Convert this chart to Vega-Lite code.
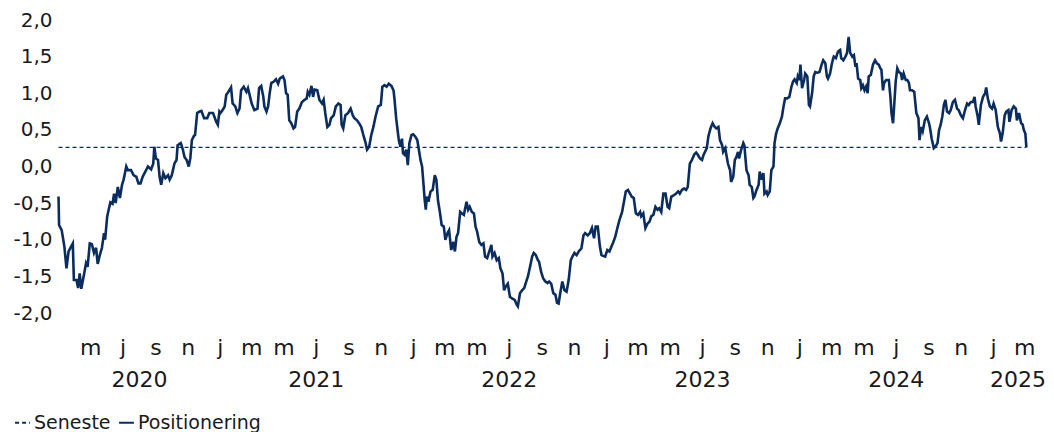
{
  "$schema": "https://vega.github.io/schema/vega-lite/v6.json",
  "width": 970,
  "height": 293,
  "autosize": "none",
  "padding": {"left": 58, "top": 20, "right": 26, "bottom": 119},
  "background": "white",
  "config": {
    "view": {"stroke": null},
    "font": "DejaVu Sans",
    "axis": {"grid": false, "domain": false, "ticks": false, "tickSize": 0, "labelColor": "#1a1a1a", "labelFont": "DejaVu Sans", "title": null, "labelOverlap": false}
  },
  "datasets": {
    "pos": [
      {"d":"2020-03-02","v":-0.41},{"d":"2020-03-03","v":-0.80},{"d":"2020-03-08","v":-0.87},{"d":"2020-03-13","v":-1.09},{"d":"2020-03-17","v":-1.39},{"d":"2020-03-21","v":-1.16},{"d":"2020-03-29","v":-1.05},{"d":"2020-03-31","v":-1.55},{"d":"2020-04-05","v":-1.55},{"d":"2020-04-08","v":-1.66},{"d":"2020-04-11","v":-1.46},{"d":"2020-04-14","v":-1.67},{"d":"2020-04-19","v":-1.48},{"d":"2020-04-23","v":-1.32},{"d":"2020-04-26","v":-1.37},{"d":"2020-04-30","v":-1.05},{"d":"2020-05-04","v":-1.06},{"d":"2020-05-08","v":-1.18},{"d":"2020-05-12","v":-1.11},{"d":"2020-05-15","v":-1.33},{"d":"2020-05-19","v":-1.21},{"d":"2020-05-23","v":-1.11},{"d":"2020-05-27","v":-0.91},{"d":"2020-05-29","v":-1.00},{"d":"2020-06-02","v":-0.68},{"d":"2020-06-06","v":-0.55},{"d":"2020-06-08","v":-0.49},{"d":"2020-06-12","v":-0.51},{"d":"2020-06-15","v":-0.37},{"d":"2020-06-18","v":-0.50},{"d":"2020-06-22","v":-0.28},{"d":"2020-06-26","v":-0.43},{"d":"2020-06-30","v":-0.25},{"d":"2020-07-03","v":-0.18},{"d":"2020-07-08","v":0.00},{"d":"2020-07-11","v":-0.05},{"d":"2020-07-17","v":-0.05},{"d":"2020-07-22","v":-0.12},{"d":"2020-07-27","v":-0.14},{"d":"2020-07-31","v":-0.23},{"d":"2020-08-04","v":-0.23},{"d":"2020-08-08","v":-0.14},{"d":"2020-08-13","v":-0.07},{"d":"2020-08-18","v":0.00},{"d":"2020-08-24","v":-0.04},{"d":"2020-08-28","v":0.04},{"d":"2020-08-30","v":0.27},{"d":"2020-09-02","v":0.11},{"d":"2020-09-06","v":0.09},{"d":"2020-09-09","v":-0.14},{"d":"2020-09-12","v":-0.25},{"d":"2020-09-16","v":-0.09},{"d":"2020-09-20","v":-0.16},{"d":"2020-09-25","v":-0.12},{"d":"2020-09-28","v":-0.18},{"d":"2020-10-02","v":-0.12},{"d":"2020-10-07","v":0.04},{"d":"2020-10-11","v":0.09},{"d":"2020-10-13","v":0.29},{"d":"2020-10-19","v":0.32},{"d":"2020-10-23","v":0.23},{"d":"2020-10-26","v":0.13},{"d":"2020-10-30","v":0.09},{"d":"2020-11-03","v":0.00},{"d":"2020-11-06","v":0.11},{"d":"2020-11-09","v":0.36},{"d":"2020-11-13","v":0.42},{"d":"2020-11-15","v":0.43},{"d":"2020-11-19","v":0.73},{"d":"2020-11-23","v":0.75},{"d":"2020-11-27","v":0.76},{"d":"2020-12-02","v":0.66},{"d":"2020-12-08","v":0.66},{"d":"2020-12-12","v":0.73},{"d":"2020-12-19","v":0.73},{"d":"2020-12-25","v":0.61},{"d":"2020-12-28","v":0.57},{"d":"2020-12-31","v":0.75},
      {"d":"2021-01-02","v":0.73},{"d":"2021-01-06","v":0.77},{"d":"2021-01-10","v":0.82},{"d":"2021-01-13","v":0.98},{"d":"2021-01-17","v":1.02},{"d":"2021-01-22","v":1.08},{"d":"2021-01-25","v":0.86},{"d":"2021-01-30","v":0.82},{"d":"2021-02-03","v":0.73},{"d":"2021-02-07","v":0.79},{"d":"2021-02-10","v":1.04},{"d":"2021-02-15","v":1.09},{"d":"2021-02-20","v":1.02},{"d":"2021-02-23","v":1.07},{"d":"2021-02-27","v":0.95},{"d":"2021-03-02","v":0.86},{"d":"2021-03-07","v":0.77},{"d":"2021-03-13","v":0.79},{"d":"2021-03-16","v":1.07},{"d":"2021-03-20","v":1.10},{"d":"2021-03-24","v":0.95},{"d":"2021-03-26","v":0.82},{"d":"2021-03-30","v":0.75},{"d":"2021-04-02","v":0.82},{"d":"2021-04-05","v":1.00},{"d":"2021-04-08","v":1.14},{"d":"2021-04-13","v":1.16},{"d":"2021-04-17","v":1.19},{"d":"2021-04-21","v":1.13},{"d":"2021-04-24","v":1.20},{"d":"2021-04-30","v":1.23},{"d":"2021-05-03","v":1.18},{"d":"2021-05-06","v":1.00},{"d":"2021-05-09","v":0.98},{"d":"2021-05-12","v":0.63},{"d":"2021-05-16","v":0.59},{"d":"2021-05-20","v":0.52},{"d":"2021-05-23","v":0.54},{"d":"2021-05-27","v":0.75},{"d":"2021-05-31","v":0.79},{"d":"2021-06-05","v":0.88},{"d":"2021-06-10","v":0.91},{"d":"2021-06-14","v":0.93},{"d":"2021-06-16","v":1.02},{"d":"2021-06-19","v":0.98},{"d":"2021-06-23","v":1.10},{"d":"2021-06-26","v":0.95},{"d":"2021-06-29","v":1.05},{"d":"2021-07-04","v":1.04},{"d":"2021-07-08","v":0.91},{"d":"2021-07-13","v":0.86},{"d":"2021-07-16","v":0.91},{"d":"2021-07-19","v":0.73},{"d":"2021-07-23","v":0.54},{"d":"2021-07-27","v":0.57},{"d":"2021-07-30","v":0.66},{"d":"2021-08-04","v":0.70},{"d":"2021-08-08","v":0.82},{"d":"2021-08-13","v":0.86},{"d":"2021-08-17","v":0.84},{"d":"2021-08-19","v":0.57},{"d":"2021-08-22","v":0.52},{"d":"2021-08-26","v":0.70},{"d":"2021-08-31","v":0.73},{"d":"2021-09-05","v":0.79},{"d":"2021-09-09","v":0.70},{"d":"2021-09-12","v":0.66},{"d":"2021-09-17","v":0.63},{"d":"2021-09-21","v":0.59},{"d":"2021-09-25","v":0.54},{"d":"2021-09-29","v":0.43},{"d":"2021-10-03","v":0.33},{"d":"2021-10-06","v":0.23},{"d":"2021-10-10","v":0.27},{"d":"2021-10-14","v":0.43},{"d":"2021-10-18","v":0.54},{"d":"2021-10-22","v":0.68},{"d":"2021-10-27","v":0.82},{"d":"2021-11-01","v":0.84},{"d":"2021-11-04","v":1.09},{"d":"2021-11-08","v":1.11},{"d":"2021-11-12","v":1.09},{"d":"2021-11-16","v":1.13},{"d":"2021-11-21","v":1.10},{"d":"2021-11-25","v":1.04},{"d":"2021-11-27","v":0.91},{"d":"2021-11-30","v":0.66},{"d":"2021-12-02","v":0.54},{"d":"2021-12-05","v":0.36},{"d":"2021-12-08","v":0.27},{"d":"2021-12-11","v":0.38},{"d":"2021-12-13","v":0.18},{"d":"2021-12-16","v":0.16},{"d":"2021-12-19","v":0.23},{"d":"2021-12-22","v":0.02},{"d":"2021-12-25","v":0.32},{"d":"2021-12-29","v":0.43},
      {"d":"2022-01-01","v":0.44},{"d":"2022-01-05","v":0.41},{"d":"2022-01-09","v":0.36},{"d":"2022-01-13","v":0.18},{"d":"2022-01-15","v":0.09},{"d":"2022-01-18","v":0.00},{"d":"2022-01-20","v":-0.18},{"d":"2022-01-23","v":-0.46},{"d":"2022-01-25","v":-0.59},{"d":"2022-01-27","v":-0.41},{"d":"2022-01-30","v":-0.48},{"d":"2022-02-03","v":-0.34},{"d":"2022-02-07","v":-0.32},{"d":"2022-02-11","v":-0.12},{"d":"2022-02-14","v":-0.18},{"d":"2022-02-17","v":-0.46},{"d":"2022-02-21","v":-0.64},{"d":"2022-02-24","v":-0.80},{"d":"2022-02-28","v":-0.82},{"d":"2022-03-03","v":-1.00},{"d":"2022-03-07","v":-0.91},{"d":"2022-03-10","v":-0.87},{"d":"2022-03-14","v":-1.14},{"d":"2022-03-18","v":-1.03},{"d":"2022-03-21","v":-1.16},{"d":"2022-03-24","v":-0.96},{"d":"2022-03-27","v":-0.91},{"d":"2022-03-31","v":-0.62},{"d":"2022-04-03","v":-0.64},{"d":"2022-04-07","v":-0.66},{"d":"2022-04-12","v":-0.48},{"d":"2022-04-15","v":-0.59},{"d":"2022-04-18","v":-0.55},{"d":"2022-04-22","v":-0.62},{"d":"2022-04-26","v":-0.64},{"d":"2022-04-29","v":-0.82},{"d":"2022-05-02","v":-0.89},{"d":"2022-05-06","v":-1.03},{"d":"2022-05-10","v":-1.07},{"d":"2022-05-14","v":-1.05},{"d":"2022-05-17","v":-1.23},{"d":"2022-05-21","v":-1.25},{"d":"2022-05-25","v":-1.16},{"d":"2022-05-29","v":-1.07},{"d":"2022-05-31","v":-1.23},{"d":"2022-06-04","v":-1.18},{"d":"2022-06-08","v":-1.28},{"d":"2022-06-12","v":-1.25},{"d":"2022-06-15","v":-1.39},{"d":"2022-06-19","v":-1.46},{"d":"2022-06-22","v":-1.69},{"d":"2022-06-25","v":-1.64},{"d":"2022-06-29","v":-1.60},{"d":"2022-07-03","v":-1.78},{"d":"2022-07-07","v":-1.80},{"d":"2022-07-12","v":-1.82},{"d":"2022-07-16","v":-1.89},{"d":"2022-07-18","v":-1.91},{"d":"2022-07-22","v":-1.73},{"d":"2022-07-26","v":-1.69},{"d":"2022-07-30","v":-1.66},{"d":"2022-08-02","v":-1.59},{"d":"2022-08-06","v":-1.50},{"d":"2022-08-10","v":-1.37},{"d":"2022-08-14","v":-1.23},{"d":"2022-08-17","v":-1.18},{"d":"2022-08-21","v":-1.21},{"d":"2022-08-25","v":-1.28},{"d":"2022-08-27","v":-1.30},{"d":"2022-08-31","v":-1.44},{"d":"2022-09-04","v":-1.53},{"d":"2022-09-08","v":-1.57},{"d":"2022-09-12","v":-1.59},{"d":"2022-09-15","v":-1.57},{"d":"2022-09-19","v":-1.60},{"d":"2022-09-23","v":-1.73},{"d":"2022-09-27","v":-1.75},{"d":"2022-09-30","v":-1.86},{"d":"2022-10-03","v":-1.87},{"d":"2022-10-07","v":-1.69},{"d":"2022-10-10","v":-1.57},{"d":"2022-10-14","v":-1.69},{"d":"2022-10-18","v":-1.71},{"d":"2022-10-22","v":-1.55},{"d":"2022-10-26","v":-1.28},{"d":"2022-10-29","v":-1.23},{"d":"2022-11-02","v":-1.18},{"d":"2022-11-06","v":-1.21},{"d":"2022-11-10","v":-1.16},{"d":"2022-11-15","v":-1.12},{"d":"2022-11-19","v":-0.94},{"d":"2022-11-22","v":-0.91},{"d":"2022-11-27","v":-0.94},{"d":"2022-12-01","v":-0.91},{"d":"2022-12-05","v":-0.84},{"d":"2022-12-09","v":-0.98},{"d":"2022-12-12","v":-0.82},{"d":"2022-12-16","v":-0.82},{"d":"2022-12-20","v":-1.09},{"d":"2022-12-23","v":-1.21},{"d":"2022-12-26","v":-1.22},{"d":"2022-12-30","v":-1.23},
      {"d":"2023-01-03","v":-1.14},{"d":"2023-01-07","v":-1.16},{"d":"2023-01-11","v":-1.09},{"d":"2023-01-14","v":-1.04},{"d":"2023-01-18","v":-0.96},{"d":"2023-01-22","v":-0.84},{"d":"2023-01-26","v":-0.73},{"d":"2023-01-31","v":-0.62},{"d":"2023-02-03","v":-0.50},{"d":"2023-02-07","v":-0.34},{"d":"2023-02-11","v":-0.32},{"d":"2023-02-15","v":-0.37},{"d":"2023-02-18","v":-0.41},{"d":"2023-02-22","v":-0.43},{"d":"2023-02-26","v":-0.64},{"d":"2023-03-02","v":-0.66},{"d":"2023-03-06","v":-0.62},{"d":"2023-03-08","v":-0.68},{"d":"2023-03-12","v":-0.64},{"d":"2023-03-16","v":-0.84},{"d":"2023-03-20","v":-0.78},{"d":"2023-03-24","v":-0.75},{"d":"2023-03-27","v":-0.68},{"d":"2023-03-31","v":-0.66},{"d":"2023-04-04","v":-0.55},{"d":"2023-04-08","v":-0.59},{"d":"2023-04-11","v":-0.57},{"d":"2023-04-15","v":-0.62},{"d":"2023-04-19","v":-0.37},{"d":"2023-04-23","v":-0.37},{"d":"2023-04-27","v":-0.55},{"d":"2023-04-30","v":-0.57},{"d":"2023-05-04","v":-0.41},{"d":"2023-05-09","v":-0.39},{"d":"2023-05-13","v":-0.37},{"d":"2023-05-17","v":-0.34},{"d":"2023-05-20","v":-0.37},{"d":"2023-05-24","v":-0.32},{"d":"2023-05-28","v":-0.30},{"d":"2023-06-01","v":-0.32},{"d":"2023-06-04","v":-0.28},{"d":"2023-06-08","v":0.04},{"d":"2023-06-12","v":0.09},{"d":"2023-06-16","v":0.16},{"d":"2023-06-20","v":0.19},{"d":"2023-06-23","v":0.16},{"d":"2023-06-27","v":0.11},{"d":"2023-07-01","v":0.09},{"d":"2023-07-04","v":0.16},{"d":"2023-07-10","v":0.25},{"d":"2023-07-13","v":0.41},{"d":"2023-07-17","v":0.52},{"d":"2023-07-21","v":0.59},{"d":"2023-07-25","v":0.54},{"d":"2023-07-28","v":0.52},{"d":"2023-08-01","v":0.54},{"d":"2023-08-04","v":0.36},{"d":"2023-08-08","v":0.29},{"d":"2023-08-10","v":0.20},{"d":"2023-08-14","v":0.25},{"d":"2023-08-16","v":0.16},{"d":"2023-08-19","v":0.04},{"d":"2023-08-23","v":-0.05},{"d":"2023-08-25","v":-0.21},{"d":"2023-08-29","v":-0.14},{"d":"2023-09-01","v":0.09},{"d":"2023-09-04","v":0.13},{"d":"2023-09-07","v":0.20},{"d":"2023-09-09","v":0.11},{"d":"2023-09-13","v":0.23},{"d":"2023-09-17","v":0.32},{"d":"2023-09-19","v":0.29},{"d":"2023-09-23","v":-0.05},{"d":"2023-09-27","v":-0.12},{"d":"2023-09-29","v":-0.25},{"d":"2023-10-03","v":-0.28},{"d":"2023-10-06","v":-0.43},{"d":"2023-10-08","v":-0.41},{"d":"2023-10-12","v":-0.32},{"d":"2023-10-16","v":-0.25},{"d":"2023-10-18","v":-0.07},{"d":"2023-10-22","v":-0.18},{"d":"2023-10-25","v":-0.09},{"d":"2023-10-27","v":-0.37},{"d":"2023-10-31","v":-0.34},{"d":"2023-11-02","v":-0.39},{"d":"2023-11-06","v":-0.34},{"d":"2023-11-09","v":-0.05},{"d":"2023-11-13","v":0.00},{"d":"2023-11-15","v":0.32},{"d":"2023-11-18","v":0.45},{"d":"2023-11-21","v":0.52},{"d":"2023-11-25","v":0.59},{"d":"2023-11-29","v":0.68},{"d":"2023-12-02","v":0.82},{"d":"2023-12-05","v":0.93},{"d":"2023-12-09","v":0.93},{"d":"2023-12-13","v":0.95},{"d":"2023-12-17","v":1.09},{"d":"2023-12-20","v":1.16},{"d":"2023-12-23","v":1.19},{"d":"2023-12-27","v":1.14},{"d":"2023-12-29","v":1.23},
      {"d":"2024-01-01","v":1.18},{"d":"2024-01-03","v":1.39},{"d":"2024-01-06","v":1.07},{"d":"2024-01-10","v":1.18},{"d":"2024-01-12","v":1.27},{"d":"2024-01-16","v":1.23},{"d":"2024-01-19","v":0.84},{"d":"2024-01-21","v":0.82},{"d":"2024-01-25","v":1.00},{"d":"2024-01-28","v":1.23},{"d":"2024-01-31","v":1.29},{"d":"2024-02-04","v":1.28},{"d":"2024-02-08","v":1.29},{"d":"2024-02-12","v":1.39},{"d":"2024-02-15","v":1.45},{"d":"2024-02-19","v":1.41},{"d":"2024-02-22","v":1.23},{"d":"2024-02-24","v":1.20},{"d":"2024-02-28","v":1.27},{"d":"2024-03-02","v":1.39},{"d":"2024-03-04","v":1.45},{"d":"2024-03-06","v":1.50},{"d":"2024-03-10","v":1.48},{"d":"2024-03-14","v":1.57},{"d":"2024-03-18","v":1.59},{"d":"2024-03-20","v":1.48},{"d":"2024-03-24","v":1.45},{"d":"2024-03-28","v":1.50},{"d":"2024-03-31","v":1.55},{"d":"2024-04-03","v":1.77},{"d":"2024-04-06","v":1.55},{"d":"2024-04-10","v":1.50},{"d":"2024-04-13","v":1.52},{"d":"2024-04-16","v":1.36},{"d":"2024-04-18","v":1.41},{"d":"2024-04-21","v":1.20},{"d":"2024-04-25","v":1.18},{"d":"2024-04-27","v":1.07},{"d":"2024-04-30","v":1.11},{"d":"2024-05-03","v":1.04},{"d":"2024-05-06","v":1.09},{"d":"2024-05-09","v":1.00},{"d":"2024-05-11","v":1.23},{"d":"2024-05-15","v":1.25},{"d":"2024-05-19","v":1.39},{"d":"2024-05-23","v":1.45},{"d":"2024-05-26","v":1.41},{"d":"2024-05-30","v":1.39},{"d":"2024-06-02","v":1.34},{"d":"2024-06-04","v":1.32},{"d":"2024-06-07","v":1.04},{"d":"2024-06-09","v":1.14},{"d":"2024-06-13","v":1.18},{"d":"2024-06-18","v":1.18},{"d":"2024-06-21","v":0.95},{"d":"2024-06-23","v":0.73},{"d":"2024-06-26","v":0.59},{"d":"2024-06-28","v":0.82},{"d":"2024-07-01","v":1.16},{"d":"2024-07-04","v":1.34},{"d":"2024-07-07","v":1.29},{"d":"2024-07-11","v":1.27},{"d":"2024-07-13","v":1.18},{"d":"2024-07-16","v":1.27},{"d":"2024-07-20","v":1.18},{"d":"2024-07-23","v":1.18},{"d":"2024-07-26","v":1.14},{"d":"2024-07-28","v":1.04},{"d":"2024-08-01","v":1.04},{"d":"2024-08-05","v":1.02},{"d":"2024-08-09","v":0.73},{"d":"2024-08-13","v":0.66},{"d":"2024-08-15","v":0.36},{"d":"2024-08-18","v":0.54},{"d":"2024-08-21","v":0.48},{"d":"2024-08-25","v":0.63},{"d":"2024-08-29","v":0.68},{"d":"2024-09-02","v":0.59},{"d":"2024-09-04","v":0.52},{"d":"2024-09-07","v":0.38},{"d":"2024-09-11","v":0.25},{"d":"2024-09-14","v":0.27},{"d":"2024-09-18","v":0.32},{"d":"2024-09-21","v":0.50},{"d":"2024-09-24","v":0.57},{"d":"2024-09-27","v":0.68},{"d":"2024-09-30","v":0.84},{"d":"2024-10-03","v":0.91},{"d":"2024-10-06","v":0.75},{"d":"2024-10-10","v":0.73},{"d":"2024-10-13","v":0.77},{"d":"2024-10-17","v":0.88},{"d":"2024-10-21","v":0.91},{"d":"2024-10-25","v":0.79},{"d":"2024-10-28","v":0.77},{"d":"2024-11-01","v":0.70},{"d":"2024-11-05","v":0.66},{"d":"2024-11-09","v":0.77},{"d":"2024-11-13","v":0.86},{"d":"2024-11-16","v":0.84},{"d":"2024-11-20","v":0.88},{"d":"2024-11-24","v":0.88},{"d":"2024-11-27","v":0.95},{"d":"2024-11-29","v":0.82},{"d":"2024-12-03","v":0.68},{"d":"2024-12-05","v":0.57},{"d":"2024-12-09","v":0.84},{"d":"2024-12-13","v":0.95},{"d":"2024-12-17","v":1.00},{"d":"2024-12-19","v":1.08},{"d":"2024-12-22","v":0.93},{"d":"2024-12-26","v":0.82},{"d":"2024-12-30","v":0.79},
      {"d":"2025-01-02","v":0.86},{"d":"2025-01-06","v":0.77},{"d":"2025-01-10","v":0.54},{"d":"2025-01-14","v":0.45},{"d":"2025-01-16","v":0.34},{"d":"2025-01-19","v":0.45},{"d":"2025-01-23","v":0.70},{"d":"2025-01-26","v":0.75},{"d":"2025-01-30","v":0.77},{"d":"2025-02-01","v":0.61},{"d":"2025-02-05","v":0.77},{"d":"2025-02-09","v":0.82},{"d":"2025-02-13","v":0.79},{"d":"2025-02-15","v":0.63},{"d":"2025-02-19","v":0.73},{"d":"2025-02-23","v":0.59},{"d":"2025-02-26","v":0.57},{"d":"2025-02-28","v":0.50},{"d":"2025-03-03","v":0.45},{"d":"2025-03-05","v":0.26}
    ],
    "sen": [
      {"d":"2020-03-02","v":0.26},{"d":"2025-03-05","v":0.26}
    ]
  },
  "layer": [
    {
      "data": {"name": "sen"},
      "mark": {"type": "line", "strokeWidth": 1.3},
      "encoding": {
        "x": {
          "field": "d", "type": "temporal",
          "scale": {"type": "utc", "domain": [{"year": 2020, "month": 3, "date": 1, "utc": true}, {"year": 2025, "month": 3, "date": 8, "utc": true}]},
          "axis": {
            "orient": "bottom",
            "values": [
              {"year": 2020, "month": 5, "date": 1, "utc": true},{"year": 2020, "month": 7, "date": 1, "utc": true},{"year": 2020, "month": 9, "date": 1, "utc": true},{"year": 2020, "month": 11, "date": 1, "utc": true},
              {"year": 2021, "month": 1, "date": 1, "utc": true},{"year": 2021, "month": 3, "date": 1, "utc": true},{"year": 2021, "month": 5, "date": 1, "utc": true},{"year": 2021, "month": 7, "date": 1, "utc": true},{"year": 2021, "month": 9, "date": 1, "utc": true},{"year": 2021, "month": 11, "date": 1, "utc": true},
              {"year": 2022, "month": 1, "date": 1, "utc": true},{"year": 2022, "month": 3, "date": 1, "utc": true},{"year": 2022, "month": 5, "date": 1, "utc": true},{"year": 2022, "month": 7, "date": 1, "utc": true},{"year": 2022, "month": 9, "date": 1, "utc": true},{"year": 2022, "month": 11, "date": 1, "utc": true},
              {"year": 2023, "month": 1, "date": 1, "utc": true},{"year": 2023, "month": 3, "date": 1, "utc": true},{"year": 2023, "month": 5, "date": 1, "utc": true},{"year": 2023, "month": 7, "date": 1, "utc": true},{"year": 2023, "month": 9, "date": 1, "utc": true},{"year": 2023, "month": 11, "date": 1, "utc": true},
              {"year": 2024, "month": 1, "date": 1, "utc": true},{"year": 2024, "month": 3, "date": 1, "utc": true},{"year": 2024, "month": 5, "date": 1, "utc": true},{"year": 2024, "month": 7, "date": 1, "utc": true},{"year": 2024, "month": 9, "date": 1, "utc": true},{"year": 2024, "month": 11, "date": 1, "utc": true},
              {"year": 2025, "month": 1, "date": 1, "utc": true},{"year": 2025, "month": 3, "date": 1, "utc": true}
            ],
            "labelExpr": "['j','f','m','a','m','j','j','a','s','o','n','d'][utcmonth(datum.value)]",
            "labelFontSize": 22,
            "labelPadding": 24,
            "labelOverlap": false,
            "labelFlush": false,
            "labelBound": false
          }
        },
        "y": {
          "field": "v", "type": "quantitative",
          "scale": {"domain": [-2, 2], "nice": false, "zero": false},
          "axis": {
            "values": [-2, -1.5, -1, -0.5, 0, 0.5, 1, 1.5, 2],
            "labelExpr": "replace(replace(format(datum.value, '.1f'), '.', ','), '\u2212', '-')",
            "labelFontSize": 20,
            "labelPadding": 6,
            "labelOverlap": false
          }
        },
        "color": {
          "datum": "Seneste",
          "scale": {"domain": ["Seneste", "Positionering"], "range": ["#0b2c5f", "#0b2c5f"]},
          "legend": {
            "orient": "none", "direction": "horizontal", "legendX": -45, "legendY": 393,
            "title": null, "symbolType": "stroke", "symbolSize": 220, "symbolStrokeWidth": 1.8,
            "labelFontSize": 19, "labelColor": "#1a1a1a", "labelOffset": 2, "columnPadding": 4, "labelFont": "DejaVu Sans"
          }
        },
        "strokeDash": {
          "datum": "Seneste",
          "scale": {"domain": ["Seneste", "Positionering"], "range": [[4, 3], [1, 0]]},
          "legend": null
        }
      }
    },
    {
      "data": {"name": "pos"},
      "mark": {"type": "line", "strokeWidth": 2.6},
      "encoding": {
        "x": {
          "field": "d", "type": "temporal",
          "axis": {
            "orient": "bottom",
            "values": [
              {"year": 2020, "month": 8, "date": 1, "utc": true},
              {"year": 2021, "month": 7, "date": 1, "utc": true},
              {"year": 2022, "month": 7, "date": 1, "utc": true},
              {"year": 2023, "month": 7, "date": 1, "utc": true},
              {"year": 2024, "month": 7, "date": 1, "utc": true},
              {"year": 2025, "month": 2, "date": 16, "utc": true}
            ],
            "labelExpr": "'' + utcyear(datum.value)",
            "labelFontSize": 22,
            "labelPadding": 56,
            "labelOverlap": false,
            "labelFlush": false,
            "labelBound": false
          }
        },
        "y": {
          "field": "v", "type": "quantitative",
          "axis": {
            "values": [-2, -1.5, -1, -0.5, 0, 0.5, 1, 1.5, 2],
            "labelExpr": "replace(replace(format(datum.value, '.1f'), '.', ','), '\u2212', '-')",
            "labelFontSize": 20,
            "labelPadding": 6,
            "labelOverlap": false
          }
        },
        "color": {"datum": "Positionering"},
        "strokeDash": {"datum": "Positionering"}
      }
    }
  ],
  "resolve": {"axis": {"x": "independent"}}
}
